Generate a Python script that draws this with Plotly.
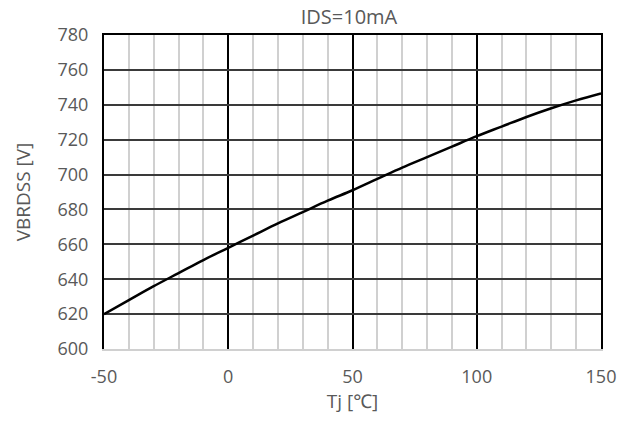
import plotly.graph_objects as go

tj = [-50, -40, -30, -20, -10, 0, 10, 20, 30, 40, 50, 60, 70, 80, 90, 100, 110, 120, 130, 140, 150]
vbrdss = [620, 628, 636, 643.5, 651, 658, 665, 672, 678.5, 685, 691, 697.5, 704, 710, 716, 722,
          727.5, 733, 738, 742.5, 746.5]
x_ticks = [-50, 0, 50, 100, 150]
y_ticks = [600, 620, 640, 660, 680, 700, 720, 740, 760, 780]

font_family = "Open Sans, Noto Sans, sans-serif"
txt_color = "#595959"

W, H = 618, 421

fig = go.Figure()
fig.add_trace(go.Scatter(x=tj, y=vbrdss, mode="lines", line=dict(color="black", width=2.5, shape="spline"),
                         showlegend=False, hoverinfo="skip"))
# invisible trace to activate the top axis
fig.add_trace(go.Scatter(x=[tj[0]], y=[vbrdss[0]], xaxis="x2", mode="markers", marker=dict(opacity=0),
                         showlegend=False, hoverinfo="skip"))

fig.update_layout(
    width=W, height=H,
    margin=dict(l=104, r=17, t=35, b=72, autoexpand=False),
    paper_bgcolor="white", plot_bgcolor="white",
    title=dict(text="IDS=10mA", x=349 / W, xanchor="center", y=1 - 17 / H, yanchor="middle",
               xref="container", yref="container",
               font=dict(family=font_family, size=20, color=txt_color)),
    font=dict(family=font_family, color=txt_color),
    xaxis=dict(
        range=[-50, 150], tickvals=x_ticks, ticktext=[str(v) for v in x_ticks],
        showgrid=True, gridcolor="black", gridwidth=1.5,
        minor=dict(dtick=10, tick0=0, showgrid=True, gridcolor="#d0d0d0", gridwidth=1.5),
        zeroline=False, showline=True, linecolor="#d0d0d0", linewidth=2,
        ticks="", ticklabelstandoff=10, automargin=False,
        tickfont=dict(family=font_family, size=18, color=txt_color),
        title=dict(text="Tj [℃]", font=dict(family=font_family, size=19, color=txt_color), standoff=8),
    ),
    xaxis2=dict(overlaying="x", side="top", range=[-50, 150], showline=True, linecolor="black",
                linewidth=2, showgrid=False, showticklabels=False, ticks="", zeroline=False),
    yaxis=dict(
        range=[600, 780], tickvals=y_ticks, ticktext=[str(v) for v in y_ticks],
        showgrid=True, gridcolor="#3a3a3a", gridwidth=1.5,
        zeroline=False, showline=True, mirror=True, linecolor="black", linewidth=2,
        ticks="", ticklabelstandoff=10, automargin=False,
        tickfont=dict(family=font_family, size=18, color=txt_color),
        title=dict(text="VBRDSS [V]", font=dict(family=font_family, size=19, color=txt_color), standoff=22),
    ),
)

fig.write_html("out.html", config={"displayModeBar": False},
               post_script="document.body.style.margin='0';document.body.style.overflow='hidden';")
